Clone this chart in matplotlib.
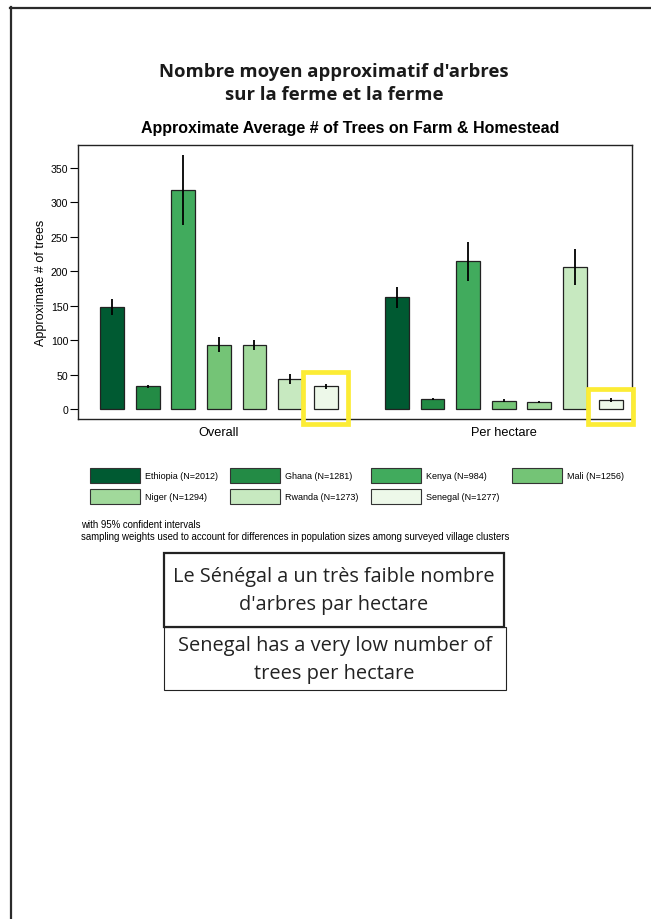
import numpy as np
import matplotlib.pyplot as plt
from matplotlib.patches import Rectangle

# Survey results: mean trees per household (overall) and per hectare, with 95% CI half-widths
countries = ["Ethiopia", "Ghana", "Kenya", "Mali", "Niger", "Rwanda", "Senegal"]
sample_n = [2012, 1281, 984, 1256, 1294, 1273, 1277]
overall_mean = [148, 33, 318, 93, 93, 44, 33]
overall_ci = [12, 2.5, 51, 11, 7, 7, 3.5]
hectare_mean = [162, 15, 214, 12, 10, 206, 13]
hectare_ci = [15, 1.5, 28, 2, 2, 26, 2.5]
groups = ["Overall", "Per hectare"]

colors = ["#005a32", "#238b45", "#41ab5d", "#74c476", "#a1d99b", "#c7e9c0", "#edf8e9"]

W, H = 651, 920
fig = plt.figure(figsize=(W / 100, H / 100), dpi=100)

def fx(px):
    return px / W

def fy(py):
    return 1 - py / H

# page border (top and left edges only)
fig.add_artist(plt.Line2D([fx(10), 1], [fy(8.5), fy(8.5)], color="#2b2b2b", lw=1.6))
fig.add_artist(plt.Line2D([fx(10.5), fx(10.5)], [fy(8), 0], color="#2b2b2b", lw=1.6))

fig.text(fx(334), fy(72), "Nombre moyen approximatif d'arbres", ha="center", va="center",
         family="Open Sans", weight="bold", fontsize=13.3, color="#1a1a1a")
fig.text(fx(334), fy(95), "sur la ferme et la ferme", ha="center", va="center",
         family="Open Sans", weight="bold", fontsize=13.3, color="#1a1a1a")
fig.text(fx(350), fy(128), "Approximate Average # of Trees on Farm & Homestead", ha="center",
         va="center", family="Liberation Sans", weight="bold", fontsize=11.5)

ax = fig.add_axes([fx(78), fy(420), fx(632) - fx(78), fy(146) - fy(420)])

n = len(countries)
pos_overall = np.arange(n)
pos_hectare = np.arange(n) + n + 1
bw = 0.67
for i in range(n):
    for pos, m, ci in [(pos_overall[i], overall_mean[i], overall_ci[i]),
                       (pos_hectare[i], hectare_mean[i], hectare_ci[i])]:
        ax.bar(pos, m, width=bw, color=colors[i], edgecolor="#222222", linewidth=0.9, zorder=2)
        ax.errorbar(pos, m, yerr=ci, fmt="none", ecolor="black", elinewidth=1.3, capsize=0, zorder=3)

ax.set_xlim(-0.955, 14.6)
ax.set_ylim(-14.5, 383)
ax.set_yticks(np.arange(0, 351, 50))
ax.set_xticks([pos_overall.mean(), pos_hectare.mean()])
ax.set_xticklabels(groups, family="Liberation Sans", fontsize=9.2)
ax.tick_params(axis="x", length=0, pad=5)
ax.tick_params(axis="y", length=6, width=0.8, pad=1, labelsize=7.6)
for lbl in ax.get_yticklabels():
    lbl.set_family("Liberation Sans")
ax.set_ylabel("Approximate # of trees", family="Liberation Sans", fontsize=9, labelpad=2.5)
for s in ax.spines.values():
    s.set_linewidth(1.0)
    s.set_color("#222222")

# highlight boxes around the Senegal bars
for pos, top in [(pos_overall[-1], 54), (pos_hectare[-1], 29)]:
    ax.add_patch(Rectangle((pos - 0.63, -21.5), 1.26, top + 21.5, fill=False,
                           edgecolor="#fcec35", linewidth=3.4, clip_on=False, zorder=5))

# legend drawn as a grid of swatches
col_x = [90, 230, 371, 512]
row_y = [469, 490]
for i, (c, nn) in enumerate(zip(countries, sample_n)):
    x0 = col_x[i % 4]
    y0 = row_y[i // 4]
    fig.add_artist(Rectangle((fx(x0), fy(y0 + 15)), fx(50), 15 / H, facecolor=colors[i],
                             edgecolor="#333333", linewidth=0.8))
    fig.text(fx(x0 + 55), fy(y0 + 7.5), f"{c} (N={nn})", ha="left", va="center",
             family="Liberation Sans", fontsize=6.5)

fig.text(fx(81), fy(525), "with 95% confident intervals", ha="left", va="center",
         family="Liberation Sans", fontsize=6.9)
fig.text(fx(81), fy(537), "sampling weights used to account for differences in population sizes "
         "among surveyed village clusters", ha="left", va="center",
         family="Liberation Sans", fontsize=6.9)

# captions in framed boxes
fig.add_artist(Rectangle((fx(163.5), fy(628)), fx(504) - fx(163.5), fy(554) - fy(628),
                         fill=False, edgecolor="#222222", linewidth=1.6))
fig.text(fx(333.5), fy(577), "Le Sénégal a un très faible nombre", ha="center", va="center",
         family="Open Sans", fontsize=14.3, color="#222222")
fig.text(fx(333.5), fy(605), "d'arbres par hectare", ha="center", va="center",
         family="Open Sans", fontsize=14.3, color="#222222")
fig.add_artist(Rectangle((fx(163.5), fy(690.5)), fx(505.5) - fx(163.5), fy(628) - fy(690.5),
                         fill=False, edgecolor="#222222", linewidth=0.8))
fig.text(fx(334.5), fy(646), "Senegal has a very low number of", ha="center", va="center",
         family="Open Sans", fontsize=14.4, color="#222222")
fig.text(fx(334.5), fy(674), "trees per hectare", ha="center", va="center",
         family="Open Sans", fontsize=14.4, color="#222222")

fig.savefig("out.png", dpi=100)
